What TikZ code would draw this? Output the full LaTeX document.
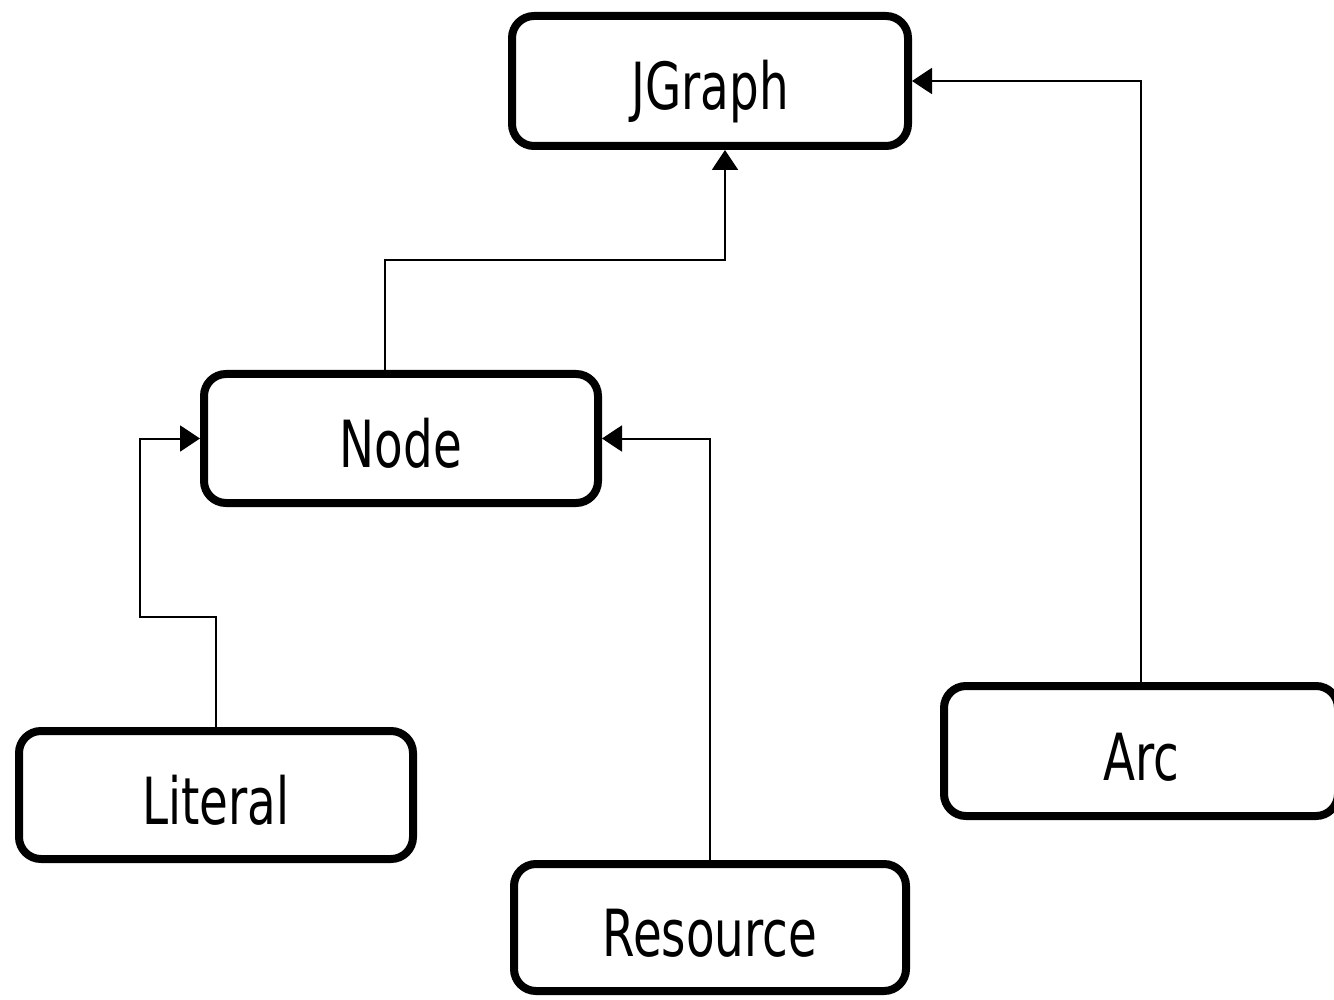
\documentclass[tikz,border=0pt]{standalone}
\usepackage{fontspec}
\usepackage{graphicx}
\setmainfont{DejaVu Sans}
\usetikzlibrary{arrows.meta}
\newcommand{\lbl}[1]{\scalebox{0.72}[1]{#1}}
\begin{document}
\begin{tikzpicture}[x=0.5pt,y=-0.5pt,
  cls/.style={draw=black, line width=4pt, rounded corners=11pt, fill=white,
    inner sep=0pt, text height=29pt, text depth=0pt, font=\fontsize{32.5}{40}\selectfont},
  arr/.style={line width=1pt, -{Triangle[length=10pt,width=13pt]}}]
\clip (0,0) rectangle (1334,1000);
\fill[white] (0,0) rectangle (1334,1000);
\node[cls, minimum width=198pt, minimum height=65pt] (J) at (710,81) {\lbl{JGraph}};
\node[cls, minimum width=197pt, minimum height=64.5pt] (N) at (401,438.5) {\lbl{Node}};
\node[cls, minimum width=197pt, minimum height=64pt] (L) at (216,795) {\lbl{Literal}};
\node[cls, minimum width=196pt, minimum height=63.5pt] (R) at (710,927.5) {\lbl{Resource}};
\node[cls, minimum width=197pt, minimum height=65pt] (A) at (1141,751) {\lbl{Arc}};
\coordinate (n1) at (385,260);
\coordinate (jx) at (725,150);
\coordinate (l1) at (140,617);
\draw[arr] (N.north -| n1) -- (n1) -| (J.south -| jx);
\draw[arr] (A.north) |- (J.east);
\draw[arr] (L.north) |- (l1) |- (N.west);
\draw[arr] (R.north) |- (N.east);
\end{tikzpicture}
\end{document}
